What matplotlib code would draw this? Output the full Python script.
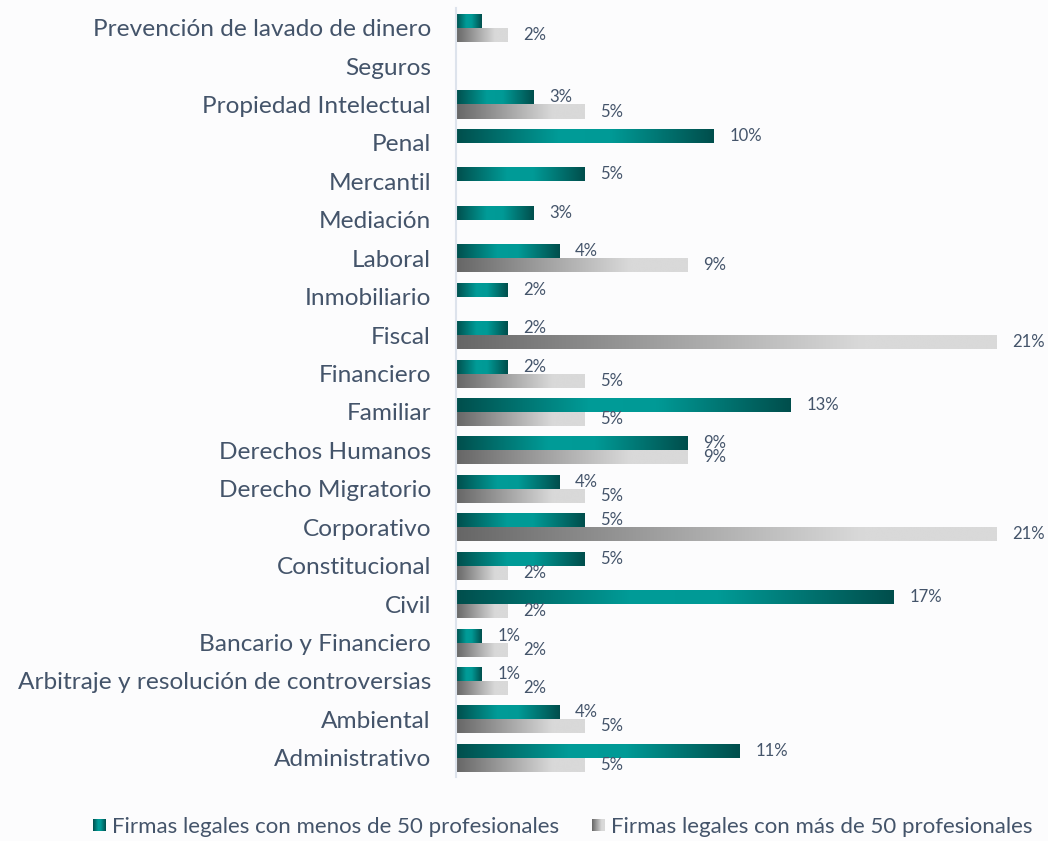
import numpy as np
import matplotlib.pyplot as plt
from matplotlib.colors import LinearSegmentedColormap

cats = ['Prevención de lavado de dinero', 'Seguros', 'Propiedad Intelectual', 'Penal',
        'Mercantil', 'Mediación', 'Laboral', 'Inmobiliario', 'Fiscal', 'Financiero',
        'Familiar', 'Derechos Humanos', 'Derecho Migratorio', 'Corporativo',
        'Constitucional', 'Civil', 'Bancario y Financiero',
        'Arbitraje y resolución de controversias', 'Ambiental', 'Administrativo']
menos50 = [1, 0, 3, 10, 5, 3, 4, 2, 2, 2, 13, 9, 4, 5, 5, 17, 1, 1, 4, 11]
mas50 = [2, 0, 5, 0, 0, 0, 9, 0, 21, 5, 5, 9, 5, 21, 2, 2, 2, 2, 5, 5]
# the first teal bar has no label in the original
show_menos = [False] + [True] * 19
legend_labels = ['Firmas legales con menos de 50 profesionales',
                 'Firmas legales con más de 50 profesionales']

txt = '#44546a'
plt.rcParams['font.family'] = ['Lato', 'DejaVu Sans']

teal_cm = LinearSegmentedColormap.from_list('teal', [(0, '#004e4c'), (0.4, '#009c98'), (0.6, '#009a96'), (1, '#004e4c')])
grey_cm = LinearSegmentedColormap.from_list('grey', [(0, '#666666'), (0.75, '#d9d9d9'), (1, '#d9d9d9')])
grad = np.linspace(0, 1, 256).reshape(1, -1)

fig = plt.figure(figsize=(10.48, 8.41), dpi=100, facecolor='#fcfcfd')
ax = fig.add_axes([0.435, 0.076, 0.516, 0.914])
ax.set_facecolor('none')

y = np.arange(len(cats))[::-1]
h = 0.365

def grad_bars(bars, cmap):
    for b in bars:
        if b.get_width() <= 0:
            continue
        x0, y0 = b.get_x(), b.get_y()
        im = ax.imshow(grad, cmap=cmap, aspect='auto', interpolation='bicubic',
                       extent=[x0, x0 + b.get_width(), y0, y0 + b.get_height()], zorder=2)
        im.set_clip_path(b)

b1 = ax.barh(y + h / 2, menos50, height=h, color='none', linewidth=0)
b2 = ax.barh(y - h / 2, mas50, height=h, color='none', linewidth=0)
grad_bars(b1, teal_cm)
grad_bars(b2, grey_cm)

for i in range(len(cats)):
    if menos50[i] > 0 and show_menos[i]:
        ax.annotate('%d%%' % menos50[i], (menos50[i], y[i] + h / 2), xytext=(11.5, 0),
                    textcoords='offset points', va='center', ha='left', fontsize=12, color=txt,
                    annotation_clip=False)
    if mas50[i] > 0:
        ax.annotate('%d%%' % mas50[i], (mas50[i], y[i] - h / 2), xytext=(11.5, 0),
                    textcoords='offset points', va='center', ha='left', fontsize=12, color=txt,
                    annotation_clip=False)

ax.set_xlim(0, 21)
ax.set_ylim(-0.5, len(cats) - 0.5)
ax.set_yticks(y)
ax.set_yticklabels(cats, fontsize=17.6, color=txt)
ax.tick_params(axis='y', length=0, pad=18)
ax.set_xticks([])
for s in ['top', 'right', 'bottom']:
    ax.spines[s].set_visible(False)
ax.spines['left'].set_color('#dde3ec')
ax.spines['left'].set_linewidth(1.5)

# legend with gradient squares
for k, (lab, cm, x) in enumerate([(legend_labels[0], teal_cm, 0.089),
                                  (legend_labels[1], grey_cm, 0.565)]):
    lax = fig.add_axes([x, 0.008 + 0.0035, 0.0115, 0.0145])
    lax.imshow(grad, cmap=cm, aspect='auto')
    lax.axis('off')
    fig.text(x + 0.018, 0.0165, lab, fontsize=16, color=txt, va='center', ha='left')

plt.savefig('out.png', dpi=100, facecolor=fig.get_facecolor())
